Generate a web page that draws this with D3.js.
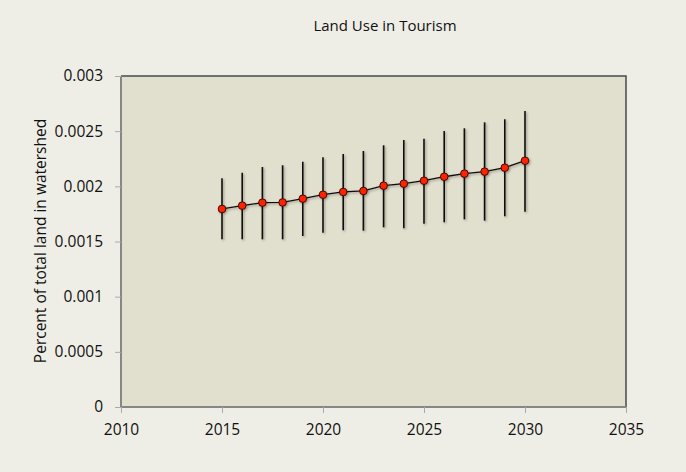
<!DOCTYPE html>
<html><head><meta charset="utf-8">
<script src="https://cdn.jsdelivr.net/npm/d3@7"></script>
<style>body{margin:0;background:#EFEEE6;}svg{display:block;}</style>
</head><body>
<script>
const years = [2015,2016,2017,2018,2019,2020,2021,2022,2023,2024,2025,2026,2027,2028,2029,2030];
const means = [0.001795,0.001825,0.001852,0.001854,0.001888,0.001924,0.001949,0.001958,0.002006,0.002024,0.002051,0.002087,0.002115,0.002133,0.002169,0.002232];
const upper = [0.002073,0.002124,0.002175,0.002191,0.002223,0.002263,0.002293,0.002320,0.002372,0.002420,0.002432,0.002502,0.002526,0.002580,0.002608,0.002683];
const lower = [0.001520,0.001520,0.001520,0.001520,0.001550,0.001580,0.001601,0.001598,0.001629,0.001620,0.001661,0.001674,0.001701,0.001689,0.001728,0.001770];
const xTicks = [2010,2015,2020,2025,2030,2035];
const yTicks = [0,0.0005,0.001,0.0015,0.002,0.0025,0.003];
const yTickLabels = ["0","0.0005","0.001","0.0015","0.002","0.0025","0.003"];
const title = "Land Use in Tourism";
const yTitle = "Percent of total land in watershed";

const W=686,H=472;
const m={left:121,right:60,top:76,bottom:65};
const svg=d3.select("body").append("svg").attr("width",W).attr("height",H);
svg.append("rect").attr("width",W).attr("height",H).attr("fill","#EFEEE6");
const defs=svg.append("defs");
const f=defs.append("filter").attr("id","sh").attr("x","-50%").attr("y","-50%").attr("width","200%").attr("height","200%");
f.append("feDropShadow").attr("dx",1.2).attr("dy",1.2).attr("stdDeviation",0.8).attr("flood-color","#000").attr("flood-opacity",0.35);

const x=d3.scaleLinear().domain([2010,2035]).range([m.left,W-m.right]);
const y=d3.scaleLinear().domain([0,0.003]).range([H-m.bottom,m.top]);
const font="'Open Sans', 'Liberation Sans', sans-serif";

svg.append("rect").attr("x",x(2010)).attr("y",y(0.003)).attr("width",x(2035)-x(2010)).attr("height",y(0)-y(0.003))
  .attr("fill","#E1DFCD");
svg.append("path").attr("d",`M${x(2010)},${y(0.003)}H${x(2035)}V${y(0)}`).attr("fill","none").attr("stroke","#4a4a4a").attr("stroke-width",1.5);

const xAxis=svg.append("g").attr("transform",`translate(0,${y(0)})`)
  .call(d3.axisBottom(x).tickValues(xTicks).tickFormat(d3.format("d")).tickSize(6).tickPadding(11));
const yAxis=svg.append("g").attr("transform",`translate(${x(2010)},0)`)
  .call(d3.axisLeft(y).tickValues(yTicks).tickFormat((d,i)=>yTickLabels[i]).tickSize(6).tickPadding(12));
[xAxis,yAxis].forEach(g=>{
  g.select(".domain").attr("stroke","#868686").attr("stroke-width",2);
  g.selectAll(".tick line").attr("stroke","#aaa");
  g.selectAll("text").attr("font-family",font).attr("font-size",15.5).attr("fill","#111");
});
xAxis.select(".domain").attr("d",`M${x(2010)},0H${x(2035)}`);
yAxis.select(".domain").attr("d",`M0,${y(0)}V${y(0.003)}`);

const data=years.map((yr,i)=>({yr,v:means[i],hi:upper[i],lo:lower[i]}));
const g=svg.append("g").attr("filter","url(#sh)");
g.selectAll(".eb").data(data).join("line").attr("class","eb")
  .attr("x1",d=>x(d.yr)).attr("x2",d=>x(d.yr)).attr("y1",d=>y(d.hi)).attr("y2",d=>y(d.lo))
  .attr("stroke","#111").attr("stroke-width",1.6);
g.append("path").datum(data).attr("d",d3.line().x(d=>x(d.yr)).y(d=>y(d.v)))
  .attr("fill","none").attr("stroke","#111").attr("stroke-width",1.3);
g.selectAll(".pt").data(data).join("circle").attr("class","pt")
  .attr("cx",d=>x(d.yr)).attr("cy",d=>y(d.v)).attr("r",3.8)
  .attr("fill","#FF2200").attr("stroke","#3a0a00").attr("stroke-width",1);

svg.append("text").attr("x",385).attr("y",31).attr("text-anchor","middle")
  .attr("font-family",font).attr("font-size",15).attr("fill","#111").text(title);
svg.append("text").attr("transform",`translate(46,${241}) rotate(-90)`).attr("text-anchor","middle")
  .attr("font-family",font).attr("font-size",15.5).attr("fill","#111").text(yTitle);
</script>
</body></html>
